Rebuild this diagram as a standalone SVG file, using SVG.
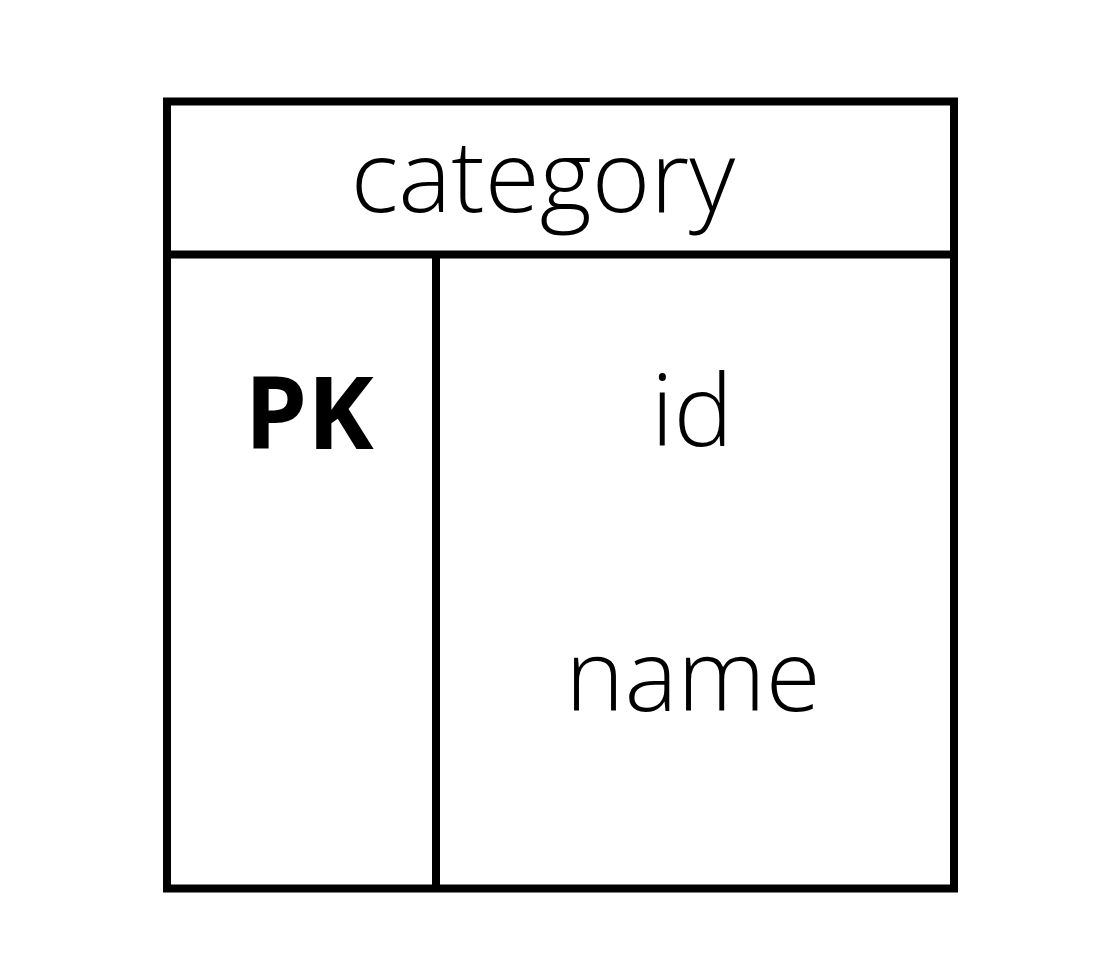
<svg xmlns="http://www.w3.org/2000/svg" width="1099" height="977" viewBox="0 0 1099 977">
<style>
.ln{fill:none;stroke:#000;stroke-width:8}
.t{font-family:"Open Sans","Noto Sans","Liberation Sans",sans-serif;font-size:100px;font-weight:300;fill:#000;text-anchor:middle}
.b{font-weight:700}
</style>
<rect width="1099" height="977" fill="#fff"/>
<g id="category-table">
<rect class="ln" x="167" y="101.5" width="787" height="787"/>
<g id="header"><text class="t" x="543" y="212">category</text></g>
</g>
<g id="connectors">
<line class="ln" x1="167" y1="254.5" x2="954" y2="254.5"/>
<line class="ln" x1="436" y1="254.5" x2="436" y2="888.5"/>
</g>
<g id="pk"><text class="t b" x="309" y="449">PK</text></g>
<g id="field-id"><text class="t" x="692" y="446">id</text></g>
<g id="field-name"><text class="t" x="693" y="711">name</text></g>
</svg>
